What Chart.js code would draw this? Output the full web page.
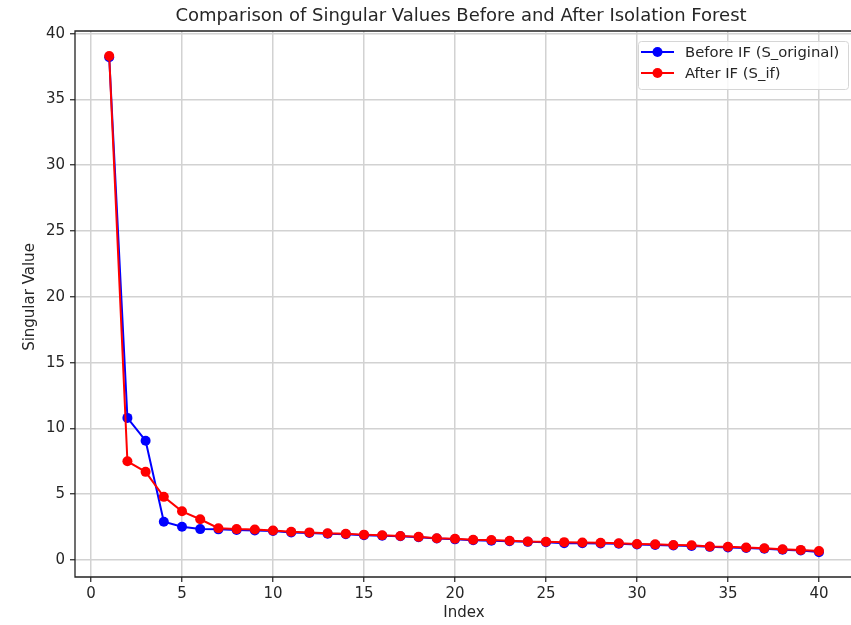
<!DOCTYPE html>
<html>
<head>
<meta charset="utf-8">
<script src="https://cdn.jsdelivr.net/npm/chart.js@4.4.1/dist/chart.umd.min.js"></script>
<style>
  html, body { margin: 0; padding: 0; background: #fff; }
  #wrap { width: 851px; height: 625px; }
</style>
</head>
<body>
<div id="wrap"><canvas id="svChart" width="851" height="625"></canvas></div>
<script>
// Singular values
const indices = Array.from({ length: 40 }, (_, i) => i + 1);

const sOriginal = [
  38.2, 10.8, 9.07, 2.91, 2.53, 2.35, 2.33, 2.28, 2.24, 2.2,
  2.1, 2.06, 2.0, 1.96, 1.88, 1.85, 1.8, 1.73, 1.64, 1.57,
  1.5, 1.47, 1.43, 1.38, 1.35, 1.28, 1.27, 1.25, 1.23, 1.18,
  1.15, 1.1, 1.07, 1.0, 0.96, 0.91, 0.85, 0.78, 0.73, 0.6
];

const sIf = [
  38.3, 7.5, 6.7, 4.8, 3.7, 3.1, 2.42, 2.35, 2.32, 2.25,
  2.15, 2.1, 2.03, 2.0, 1.93, 1.88, 1.83, 1.76, 1.66, 1.62,
  1.54, 1.52, 1.47, 1.41, 1.39, 1.36, 1.33, 1.31, 1.27, 1.22,
  1.19, 1.14, 1.12, 1.03, 1.01, 0.95, 0.9, 0.82, 0.77, 0.68
];

const xTicks = [0, 5, 10, 15, 20, 25, 30, 35, 40];
const yTicks = [0, 5, 10, 15, 20, 25, 30, 35, 40];

const seriesLabels = ['Before IF (S_original)', 'After IF (S_if)'];
const titleText = 'Comparison of Singular Values Before and After Isolation Forest';
const xTitle = 'Index';
const yTitle = 'Singular Value';

const FONT = '"DejaVu Sans", sans-serif';
const BLUE = '#0000ff';
const RED = '#ff0000';
const GRID = '#d2d2d2';
const TEXT = '#262626';

function toPoints(values) {
  return values.map((v, i) => ({ x: indices[i], y: v }));
}

// frame, title, axis titles and the in-plot legend
const decorPlugin = {
  id: 'decor',
  afterDraw(chart) {
    const { ctx, chartArea } = chart;
    const a = chartArea;
    ctx.save();

    // spines (right one is cut off in the reference)
    ctx.strokeStyle = '#222';
    ctx.lineWidth = 1.3;
    ctx.beginPath();
    ctx.moveTo(a.right, a.top);
    ctx.lineTo(a.left, a.top);
    ctx.lineTo(a.left, a.bottom);
    ctx.lineTo(a.right, a.bottom);
    ctx.stroke();

    // title
    ctx.fillStyle = TEXT;
    ctx.font = '18px ' + FONT;
    ctx.textAlign = 'center';
    ctx.textBaseline = 'middle';
    ctx.fillText(titleText, 461, 16);

    // axis titles
    ctx.font = '15px ' + FONT;
    ctx.fillText(xTitle, 464, 613);
    ctx.save();
    ctx.translate(30, 297);
    ctx.rotate(-Math.PI / 2);
    ctx.fillText(yTitle, 0, 0);
    ctx.restore();

    // legend
    const box = { x: 638, y: 41, w: 210, h: 48 };
    ctx.fillStyle = 'rgba(255,255,255,0.85)';
    ctx.strokeStyle = '#d6d6d6';
    ctx.lineWidth = 1;
    ctx.beginPath();
    ctx.roundRect(box.x + 0.5, box.y + 0.5, box.w, box.h, 3);
    ctx.fill();
    ctx.stroke();

    const colors = [BLUE, RED];
    const rows = [52, 73];
    ctx.textAlign = 'left';
    ctx.font = '14.8px ' + FONT;
    rows.forEach((ry, i) => {
      ctx.strokeStyle = colors[i];
      ctx.lineWidth = 2;
      ctx.beginPath();
      ctx.moveTo(641, ry);
      ctx.lineTo(674, ry);
      ctx.stroke();
      ctx.fillStyle = colors[i];
      ctx.beginPath();
      ctx.arc(657.5, ry, 5, 0, Math.PI * 2);
      ctx.fill();
      ctx.fillStyle = TEXT;
      ctx.fillText(seriesLabels[i], 685, ry + 1);
    });

    ctx.restore();
  }
};

function initChart() {
  const ctx = document.getElementById('svChart');

  new Chart(ctx, {
    type: 'line',
    data: {
      datasets: [
        {
          label: seriesLabels[0],
          data: toPoints(sOriginal),
          borderColor: BLUE,
          backgroundColor: BLUE,
          borderWidth: 2,
          pointRadius: 5,
          pointBorderWidth: 0,
          pointBackgroundColor: BLUE,
          tension: 0,
          order: 1
        },
        {
          label: seriesLabels[1],
          data: toPoints(sIf),
          borderColor: RED,
          backgroundColor: RED,
          borderWidth: 2,
          pointRadius: 5,
          pointBorderWidth: 0,
          pointBackgroundColor: RED,
          tension: 0,
          order: 0
        }
      ]
    },
    options: {
      responsive: false,
      animation: false,
      layout: { autoPadding: false, padding: { top: 31, left: 0, right: 0, bottom: 0 } },
      plugins: {
        legend: { display: false },
        tooltip: { enabled: false },
        title: { display: false }
      },
      scales: {
        x: {
          type: 'linear',
          min: -0.88,
          max: 41.76,
          afterFit(scale) {
            scale.height = 48;
            scale.paddingLeft = 0;
            scale.paddingRight = 0;
          },
          afterBuildTicks(scale) { scale.ticks = xTicks.map(v => ({ value: v })); },
          ticks: {
            color: TEXT,
            padding: 3,
            maxRotation: 0,
            font: { family: FONT, size: 15 }
          },
          grid: {
            color: GRID,
            lineWidth: 1.5,
            tickColor: '#222',
            tickLength: 5,
            tickWidth: 1.2
          },
          border: { display: false }
        },
        y: {
          type: 'linear',
          min: -1.29,
          max: 40.2,
          afterFit(scale) {
            scale.width = 75;
            scale.paddingTop = 0;
            scale.paddingBottom = 0;
          },
          afterBuildTicks(scale) { scale.ticks = yTicks.map(v => ({ value: v })); },
          ticks: {
            color: TEXT,
            padding: 5,
            font: { family: FONT, size: 15 }
          },
          grid: {
            color: GRID,
            lineWidth: 1.5,
            tickColor: '#222',
            tickLength: 5,
            tickWidth: 1.2
          },
          border: { display: false }
        }
      }
    },
    plugins: [decorPlugin]
  });
}

document.addEventListener('DOMContentLoaded', initChart);
</script>
</body>
</html>
